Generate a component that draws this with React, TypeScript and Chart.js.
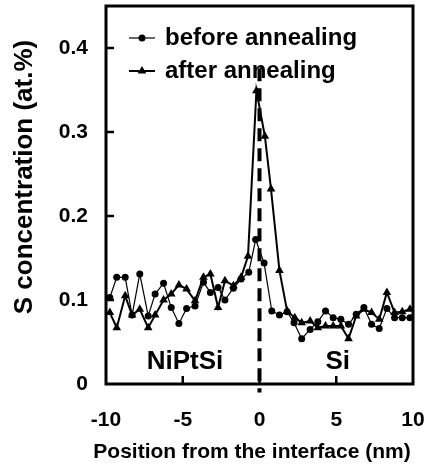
import React, { useEffect, useRef } from 'react';
import { Chart, registerables } from 'chart.js';

Chart.register(...registerables);

const xBefore = [-9.75, -9.3, -8.75, -8.3, -7.8, -7.25, -6.8, -6.25, -5.75, -5.25, -4.75, -4.2, -3.65, -3.2, -2.7, -2.25, -1.7, -1.2, -0.7, -0.25, 0.3, 0.8, 1.3, 1.8, 2.25, 2.75, 3.3, 3.8, 4.3, 4.8, 5.3, 5.8, 6.3, 6.8, 7.3, 7.8, 8.3, 8.8, 9.3, 9.8];
const yBefore = [0.103, 0.127, 0.127, 0.082, 0.131, 0.081, 0.107, 0.12, 0.091, 0.072, 0.09, 0.093, 0.121, 0.109, 0.115, 0.1, 0.114, 0.125, 0.133, 0.172, 0.144, 0.087, 0.082, 0.086, 0.073, 0.054, 0.065, 0.074, 0.087, 0.079, 0.077, 0.071, 0.083, 0.091, 0.071, 0.066, 0.09, 0.079, 0.079, 0.079];
const xAfter = [-9.75, -9.3, -8.75, -8.3, -7.8, -7.25, -6.8, -6.25, -5.75, -5.25, -4.75, -4.2, -3.65, -3.2, -2.7, -2.25, -1.7, -1.2, -0.75, -0.2, 0.35, 0.75, 1.3, 1.8, 2.3, 2.75, 3.3, 3.8, 4.3, 4.8, 5.3, 5.8, 6.3, 6.8, 7.3, 7.8, 8.3, 8.8, 9.3, 9.8];
const yAfter = [0.085, 0.067, 0.105, 0.082, 0.089, 0.067, 0.082, 0.1, 0.107, 0.118, 0.113, 0.099, 0.127, 0.131, 0.091, 0.123, 0.117, 0.127, 0.152, 0.349, 0.295, 0.232, 0.135, 0.087, 0.079, 0.073, 0.075, 0.067, 0.069, 0.069, 0.069, 0.054, 0.081, 0.089, 0.085, 0.077, 0.109, 0.085, 0.086, 0.089];
const interfaceX = [0, 0];
const interfaceY = [0.376, -0.01];
const xTicks = [-10, -5, 0, 5, 10];
const yTicks = [0, 0.1, 0.2, 0.3, 0.4];
const seriesNames = ['before annealing', 'after annealing'];
const regionLabels = ['NiPtSi', 'Si'];
const xTitle = 'Position from the interface (nm)';
const yTitle = 'S concentration (at.%)';

const FAMILY = '"Liberation Sans", Arial, sans-serif';

const decor = {
  id: 'decor',
  afterDatasetsDraw(chart: any) {
    const ctx = chart.ctx;
    const a = chart.chartArea;
    const xs = chart.scales.x;
    const ys = chart.scales.y;
    ctx.save();
    ctx.strokeStyle = '#000';
    ctx.fillStyle = '#000';
    // frame
    ctx.lineWidth = 3;
    ctx.strokeRect(a.left, a.top, a.right - a.left, a.bottom - a.top);
    // inward ticks
    ctx.lineWidth = 2.5;
    xs.ticks.forEach((t: any) => {
      if (t.value <= xs.min || t.value >= xs.max) return;
      const px = xs.getPixelForValue(t.value);
      ctx.beginPath();
      ctx.moveTo(px, a.bottom);
      ctx.lineTo(px, a.bottom - 8);
      ctx.stroke();
    });
    ys.ticks.forEach((t: any) => {
      if (t.value <= ys.min) return;
      const py = ys.getPixelForValue(t.value);
      ctx.beginPath();
      ctx.moveTo(a.left, py);
      ctx.lineTo(a.left + 8, py);
      ctx.stroke();
    });
    // region labels
    ctx.font = `bold 26px ${FAMILY}`;
    ctx.textAlign = 'center';
    ctx.textBaseline = 'middle';
    ctx.fillText(regionLabels[0], xs.getPixelForValue(-4.85), ys.getPixelForValue(0.026));
    ctx.fillText(regionLabels[1], xs.getPixelForValue(5.1), ys.getPixelForValue(0.026));
    // legend
    const lx0 = a.left + 23, lx1 = a.left + 49, lm = a.left + 36, tx = a.left + 59;
    const rows = [a.top + 32, a.top + 65];
    ctx.lineWidth = 1.2;
    ctx.beginPath(); ctx.moveTo(lx0, rows[0]); ctx.lineTo(lx1, rows[0]); ctx.stroke();
    ctx.beginPath(); ctx.arc(lm, rows[0], 3.5, 0, Math.PI * 2); ctx.fill();
    ctx.lineWidth = 2;
    ctx.beginPath(); ctx.moveTo(lx0, rows[1]); ctx.lineTo(lx1, rows[1]); ctx.stroke();
    const r = 5;
    ctx.beginPath();
    ctx.moveTo(lm, rows[1] - r);
    ctx.lineTo(lm + r * 0.866, rows[1] + r * 0.5);
    ctx.lineTo(lm - r * 0.866, rows[1] + r * 0.5);
    ctx.closePath(); ctx.fill();
    ctx.font = `bold 24px ${FAMILY}`;
    ctx.textAlign = 'left';
    ctx.fillText(seriesNames[0], tx, rows[0]);
    ctx.fillText(seriesNames[1], tx, rows[1]);
    // axis titles
    ctx.font = `bold 21px ${FAMILY}`;
    ctx.textAlign = 'center';
    ctx.fillText(xTitle, 252, 452);
    ctx.save();
    ctx.translate(25, 177);
    ctx.rotate(-Math.PI / 2);
    ctx.font = `bold 26px ${FAMILY}`;
    ctx.fillText(yTitle, 0, 0);
    ctx.restore();
    ctx.restore();
  },
};

export default function App() {
  const ref = useRef<HTMLCanvasElement>(null);
  useEffect(() => {
    if (!ref.current) return;
    const tickFont = { family: FAMILY, size: 21, weight: 'bold' as const };
    const chart = new Chart(ref.current, {
      type: 'line',
      data: {
        datasets: [
          {
            label: seriesNames[0],
            data: xBefore.map((x, i) => ({ x, y: yBefore[i] })),
            borderColor: '#000',
            backgroundColor: '#000',
            borderWidth: 1.2,
            pointStyle: 'circle',
            pointRadius: 3.5,
            pointBorderWidth: 0,
            tension: 0,
          },
          {
            label: seriesNames[1],
            data: xAfter.map((x, i) => ({ x, y: yAfter[i] })),
            borderColor: '#000',
            backgroundColor: '#000',
            borderWidth: 2,
            pointStyle: 'triangle',
            pointRadius: 5,
            pointBorderWidth: 0,
            tension: 0,
          },
          {
            label: 'interface',
            data: interfaceX.map((x, i) => ({ x, y: interfaceY[i] })),
            borderColor: '#000',
            borderWidth: 4,
            borderDash: [13, 7],
            pointRadius: 0,
            clip: false as any,
          },
        ],
      },
      options: {
        animation: false,
        responsive: false,
        devicePixelRatio: 1,
        layout: { padding: { top: 6, right: 14, left: 0, bottom: 0 } },
        plugins: { legend: { display: false }, tooltip: { enabled: false } },
        scales: {
          x: {
            type: 'linear',
            min: -10,
            max: 10,
            afterBuildTicks: (s: any) => { s.ticks = xTicks.map((v) => ({ value: v })); },
            afterFit: (s: any) => { s.height = 83; s.paddingLeft = 0; s.paddingRight = 0; },
            ticks: { font: tickFont, color: '#000', padding: 24, autoSkip: false, maxRotation: 0, callback: (v: any) => String(v) },
            grid: { display: false, drawTicks: false },
            border: { display: false },
          },
          y: {
            type: 'linear',
            min: 0,
            max: 0.45,
            afterBuildTicks: (s: any) => { s.ticks = yTicks.map((v) => ({ value: v })); },
            afterFit: (s: any) => { s.width = 106; s.paddingTop = 0; s.paddingBottom = 0; },
            ticks: { font: tickFont, color: '#000', padding: 18, autoSkip: false, callback: (v: any) => String(v) },
            grid: { display: false, drawTicks: false },
            border: { display: false },
          },
        },
      },
      plugins: [decor],
    });
    return () => chart.destroy();
  }, []);
  return (
    <div style={{ position: 'absolute', left: 0, top: 0, width: 427, height: 467, background: '#fff' }}>
      <canvas ref={ref} width={427} height={467} />
    </div>
  );
}
